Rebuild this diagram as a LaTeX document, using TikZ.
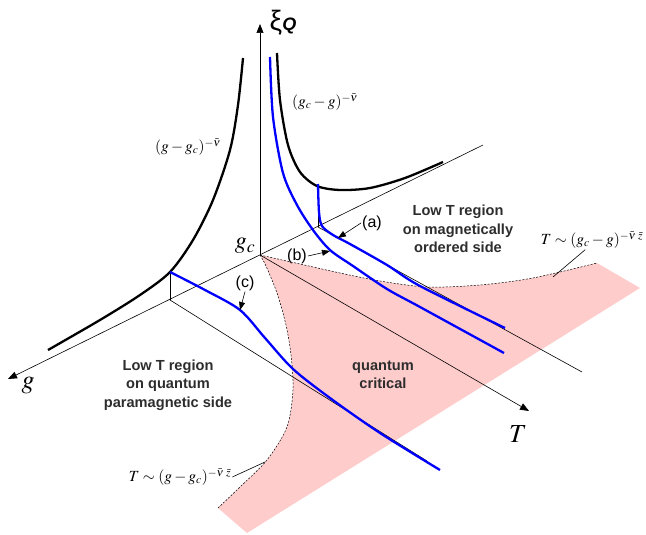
\documentclass[tikz,border=0pt]{standalone}
\usepackage{mathptmx}
\usepackage{fontspec}
\setmainfont{Liberation Sans}
\newfontfamily\seriffont{Liberation Serif}
\usetikzlibrary{arrows.meta}

\definecolor{qcpink}{RGB}{255,204,204}
\definecolor{regiontext}{RGB}{45,45,45}

\begin{document}
\begin{tikzpicture}[x=1pt,y=-1pt,
    axis/.style={draw=black,line width=0.6pt},
    axisarrow/.style={axis,-{Triangle[length=9pt,width=7pt]}},
    xicurve/.style={draw=black,line width=2.3pt},
    bluecurve/.style={draw=blue,line width=2.3pt},
    crossover/.style={draw=black,line width=0.5pt,dash pattern=on 2pt off 1.5pt},
    region/.style={font=\fontsize{14.6}{18.5}\selectfont\bfseries,align=center,text=regiontext},
    caselabel/.style={font=\fontsize{16}{16}\selectfont,inner sep=1pt},
    casearrow/.style={line width=0.6pt,-{Triangle[length=8pt,width=6pt]}},
    formula/.style={font=\fontsize{15.5}{15.5}\selectfont,inner sep=1pt},
    leader/.style={draw=black,line width=0.6pt}]
  \useasboundingbox (0,0) rectangle (646,535);

  % axes points
  \coordinate (O) at (260,255);
  \coordinate (gtip) at (8,379);
  \coordinate (gfar) at (483,145);
  \coordinate (xitip) at (260,24);
  \coordinate (Ttip) at (529,411);
  \coordinate (Pa) at (318,227);
  \coordinate (PaTop) at (318,185);
  \coordinate (PaEnd) at (582,372);
  \coordinate (Pc) at (170,300);
  \coordinate (PcTop) at (170,272);
  \coordinate (PcEnd) at (427,461);

  % quantum critical fan
  \fill[qcpink] plot[smooth] coordinates {(260,255) (300,264) (340,273) (380,281) (427,287) (480,285) (533,278) (597,263)}
    -- (640,288) -- (247,533)
    -- plot[smooth] coordinates {(218,508) (240,487) (267,460) (287,427) (293,390) (291,355) (286,325) (277,293) (266,266) (260,255)} -- cycle;
  \draw[crossover] plot[smooth] coordinates {(260,255) (300,264) (340,273) (380,281) (427,287) (480,285) (533,278) (597,263)};
  \draw[crossover] plot[smooth] coordinates {(218,508) (240,487) (267,460) (287,427) (293,390) (291,355) (286,325) (277,293) (266,266) (260,255)};

  % axes
  \draw[axisarrow] (gfar) -- (gtip);
  \draw[axisarrow] (O) -- (xitip);
  \draw[axisarrow] (O) -- (Ttip);
  \draw[axis] (Pa) -- (PaEnd);
  \draw[axis] (Pc) -- (PcEnd);
  \draw[axis] (Pa) -- (PaTop);
  \draw[axis] (Pc) -- (PcTop);

  \node (xilabel) at (283,23) {{\fontsize{28}{28}\selectfont ξ}{\fontsize{18}{18}\selectfont\bfseries\itshape Q}};
  \node (glabel) at (28,386) {\fontsize{26}{26}\selectfont$g$};
  \node (Tlabel) at (518,434) {\fontsize{26}{26}\selectfont$T$};
  \node (gclabel) at (245,246) {\fontsize{24}{24}\selectfont$g_c$};

  % correlation length at T=0
  \draw[xicurve] plot[smooth] coordinates {(48,350) (100,320) (140,295) (170,272) (193,240) (213,200) (230,150) (238,105) (243,58)};
  \draw[xicurve] plot[smooth] coordinates {(277,53) (280,100) (288,145) (300,172) (317,186) (340,190) (370,188) (405,178) (443,162)};

  % paths at fixed g
  \draw[bluecurve] plot[smooth] coordinates {(318,184) (319,212) (322,226) (333,235) (350,244) (387,265) (420,286) (505,328)};
  \draw[bluecurve] plot[smooth] coordinates {(270,57) (273,117) (283,173) (297,205) (313,230) (330,250) (353,266) (387,289) (420,307) (504,353)};
  \draw[bluecurve] plot[smooth] coordinates {(170,272) (205,290) (240,310) (265,338) (293,369) (330,398) (380,433) (440,470)};

  \node[caselabel] (alabel) at (372,223) {(a)};
  \node[caselabel] (blabel) at (297,256) {(b)};
  \node[caselabel] (clabel) at (245,283) {(c)};
  \coordinate (aTip) at (338,238);
  \coordinate (bTip) at (330,251);
  \coordinate (cTip) at (240,310);
  \draw[casearrow] (alabel.west) -- (aTip);
  \draw[casearrow] (blabel.east) -- (bTip);
  \draw[casearrow] (clabel.south) -- (cTip);

  \node[region] (ordered) at (458,229) {Low T region\\on magnetically\\ordered side};
  \node[region] (para) at (168,385) {Low T region\\on quantum\\paramagnetic side};
  \node[region] (critical) at (383,375) {quantum\\critical};

  \node[formula] (xipara) at (188,147) {$(g-g_c)^{-\bar\nu}$};
  \node[formula] (xiord) at (325,102) {$(g_c-g)^{-\bar\nu}$};
  \node[formula] (Tord) at (592,240) {$T\sim(g_c-g)^{-\bar\nu\;\bar z}$};
  \node[formula] (Tpara) at (180,477) {$T\sim(g-g_c)^{-\bar\nu\;\bar z}$};
  \coordinate (TordFoot) at (553,277);
  \coordinate (TparaFoot) at (265,462);
  \draw[leader] (Tord.235) -- (TordFoot);
  \draw[leader] (Tpara.east) -- (TparaFoot);
\end{tikzpicture}
\end{document}
